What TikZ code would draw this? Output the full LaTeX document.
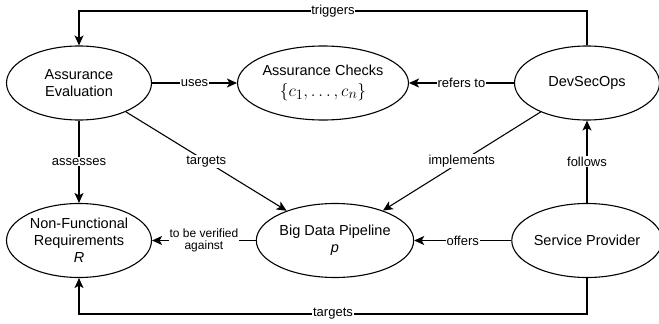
\documentclass[tikz,border=0pt]{standalone}
\usepackage{fontspec}
\setmainfont{Liberation Sans}
\usetikzlibrary{shapes.geometric,arrows.meta}
\begin{document}
\begin{tikzpicture}[x=1pt,y=-1pt,
  ell/.style={draw, ellipse, line width=1.1pt, minimum width=145pt, minimum height=74pt, inner sep=0pt, align=center, font=\fontsize{14.5}{17}\selectfont},
  arr/.style={-{Stealth[length=10pt,width=9pt,inset=2.5pt]}, line width=1.1pt},
  lbl/.style={fill=white, inner sep=0.8pt, font=\fontsize{13}{15}\selectfont},
  slbl/.style={fill=white, inner sep=0.8pt, align=center, font=\fontsize{12}{12.5}\selectfont}]
\useasboundingbox (0,0) rectangle (659,324);
\node[ell] (ae)  at (79,83)  {Assurance\\Evaluation};
\node[ell] (ac)  at (323,83) {Assurance Checks\\[3.5pt]{\fontsize{19}{19}\selectfont$\{c_1,\ldots,c_n\}$}};
\node[ell] (dso) at (587,83) {DevSecOps};
\node[ell] (nf)  at (79,240.5) {Non-Functional\\Requirements\\\itshape R};
\node[ell] (bdp) at (335,240.5) {Big Data Pipeline\\\itshape p};
\node[ell] (sp)  at (587,240.5) {Service Provider};
\coordinate (trR) at (587,11);
\coordinate (trL) at (79,11);
\coordinate (tgR) at (587,314);
\coordinate (tgL) at (79,314);
\draw[arr] (dso.north) -- (trR) -- node[lbl]{triggers} (trL) -- (ae.north);
\draw[arr] (ae) -- node[lbl]{uses} (ac);
\draw[arr] (dso) -- node[lbl]{refers to} (ac);
\draw[arr] (ae) -- node[lbl]{assesses} (nf);
\draw[arr] (ae) -- node[lbl]{targets} (bdp);
\draw[arr] (dso) -- node[lbl]{implements} (bdp);
\draw[arr] (sp) -- node[lbl]{follows} (dso);
\draw[arr] (sp) -- node[lbl]{offers} (bdp);
\draw[arr] (bdp) -- node[slbl]{to be verified\\against} (nf);
\draw[arr] (sp.south) -- (tgR) -- node[lbl]{targets} (tgL) -- (nf.south);
\end{tikzpicture}
\end{document}
